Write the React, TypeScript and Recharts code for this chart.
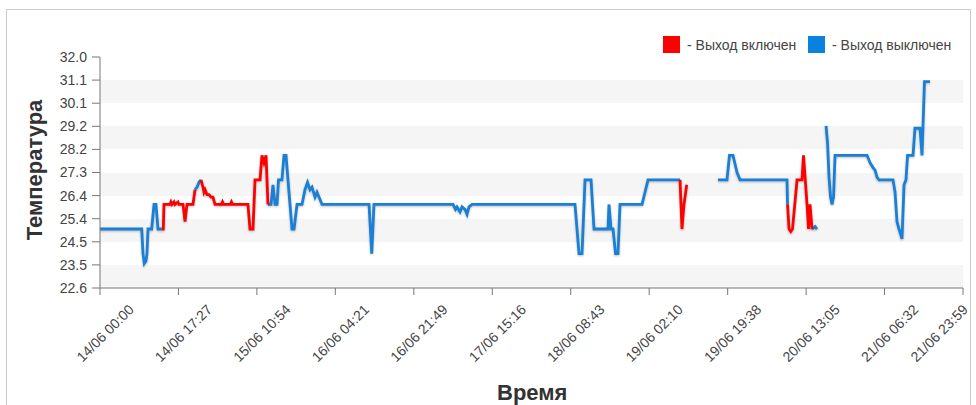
import React from 'react';
import { LineChart, Line, XAxis, YAxis, CartesianGrid } from 'recharts';

// [time "DD/MM HH:MM", temperature, output state of the segment starting here (1 = on, 0 = off)]
type Reading = [string, number, number];

const seriesOnName = '- Выход включен';
const seriesOffName = '- Выход выключен';

const xTickLabels = [
  '14/06 00:00', '14/06 17:27', '15/06 10:54', '16/06 04:21', '16/06 21:49', '17/06 15:16',
  '18/06 08:43', '19/06 02:10', '19/06 19:38', '20/06 13:05', '21/06 06:32', '21/06 23:59',
];

const yMin = 22.6;
const yMax = 32.0;
const yTickCount = 11;

const segmentA: Reading[] = [
  ['14/06 00:00', 25.0, 0], ['14/06 09:17', 25.0, 0], ['14/06 09:34', 24.0, 0], ['14/06 09:51', 23.6, 0],
  ['14/06 10:14', 23.7, 0], ['14/06 10:27', 24.0, 0], ['14/06 10:41', 25.0, 0], ['14/06 11:30', 25.0, 0],
  ['14/06 12:01', 26.0, 0], ['14/06 12:27', 26.0, 0], ['14/06 12:54', 25.0, 0], ['14/06 13:44', 25.0, 1],
  ['14/06 14:05', 25.0, 1], ['14/06 14:14', 26.0, 1], ['14/06 15:34', 26.0, 1], ['14/06 15:47', 26.1, 1],
  ['14/06 16:01', 26.0, 1], ['14/06 16:28', 26.1, 1], ['14/06 16:41', 26.0, 1], ['14/06 17:21', 26.1, 1],
  ['14/06 17:34', 26.0, 1], ['14/06 18:28', 26.0, 1], ['14/06 18:55', 25.3, 1], ['14/06 19:21', 26.0, 1],
  ['14/06 20:41', 26.0, 1], ['14/06 21:08', 26.6, 0], ['14/06 21:35', 26.7, 0], ['14/06 22:01', 26.9, 0],
  ['14/06 22:28', 27.0, 1], ['14/06 22:55', 26.7, 1], ['14/06 23:08', 26.5, 1], ['14/06 23:22', 26.6, 1],
  ['14/06 23:48', 26.4, 1], ['15/06 00:15', 26.4, 1], ['15/06 00:42', 26.3, 1], ['15/06 01:08', 26.3, 1],
  ['15/06 01:35', 26.0, 1], ['15/06 02:35', 26.0, 0], ['15/06 02:50', 26.0, 1], ['15/06 03:00', 26.0, 1],
  ['15/06 03:15', 26.1, 1], ['15/06 03:30', 26.0, 1], ['15/06 05:00', 26.0, 1], ['15/06 05:15', 26.1, 1],
  ['15/06 05:30', 26.0, 1], ['15/06 08:55', 26.0, 1], ['15/06 09:22', 25.0, 1], ['15/06 10:02', 25.0, 1],
  ['15/06 10:29', 27.0, 1], ['15/06 11:36', 27.0, 1], ['15/06 12:02', 28.0, 1], ['15/06 12:29', 27.7, 1],
  ['15/06 12:56', 28.0, 1], ['15/06 13:22', 26.0, 0], ['15/06 14:03', 26.0, 0], ['15/06 14:29', 26.8, 0],
  ['15/06 14:56', 26.0, 0], ['15/06 15:23', 26.0, 0], ['15/06 15:43', 27.0, 0], ['15/06 16:29', 27.0, 0],
  ['15/06 16:56', 28.0, 0], ['15/06 17:23', 28.0, 0], ['15/06 17:49', 27.0, 0], ['15/06 18:43', 25.0, 0],
  ['15/06 19:10', 25.0, 0], ['15/06 19:50', 26.0, 0], ['15/06 20:56', 26.0, 0], ['15/06 21:36', 26.6, 0],
  ['15/06 22:10', 26.9, 0], ['15/06 22:43', 26.6, 0], ['15/06 23:10', 26.7, 0], ['15/06 23:50', 26.3, 0],
  ['16/06 00:16', 26.5, 0], ['16/06 00:57', 26.2, 0], ['16/06 01:23', 26.0, 0], ['16/06 11:51', 26.0, 0],
  ['16/06 12:27', 24.0, 0], ['16/06 12:57', 26.0, 0], ['17/06 06:32', 26.0, 0], ['17/06 07:05', 25.8, 0],
  ['17/06 07:25', 25.9, 0], ['17/06 08:05', 25.7, 0], ['17/06 08:32', 25.9, 0], ['17/06 09:12', 25.8, 0],
  ['17/06 09:39', 25.6, 0], ['17/06 10:05', 25.9, 0], ['17/06 10:45', 26.0, 0], ['18/06 09:40', 26.0, 0],
  ['18/06 10:34', 24.0, 0], ['18/06 11:14', 24.0, 0], ['18/06 11:54', 27.0, 0], ['18/06 13:14', 27.0, 0],
  ['18/06 13:54', 25.0, 0], ['18/06 17:01', 25.0, 0], ['18/06 17:14', 26.0, 0], ['18/06 17:41', 25.0, 0],
  ['18/06 18:08', 25.0, 0], ['18/06 18:41', 24.0, 0], ['18/06 19:14', 24.0, 0], ['18/06 19:41', 26.0, 0],
  ['19/06 00:35', 26.0, 0], ['19/06 01:55', 27.0, 0], ['19/06 09:02', 27.0, 1], ['19/06 09:28', 25.0, 1],
  ['19/06 09:55', 26.0, 1], ['19/06 10:31', 26.8, 1],
];

const segmentB: Reading[] = [
  ['19/06 17:29', 27.0, 0], ['19/06 19:29', 27.0, 0], ['19/06 20:02', 28.0, 0], ['19/06 20:49', 28.0, 0],
  ['19/06 21:43', 27.3, 0], ['19/06 22:23', 27.0, 0], ['20/06 08:50', 27.0, 0], ['20/06 08:57', 26.0, 1],
  ['20/06 09:17', 25.0, 1], ['20/06 09:40', 24.9, 1], ['20/06 10:03', 25.0, 1], ['20/06 11:04', 27.0, 1],
  ['20/06 12:10', 27.0, 1], ['20/06 12:30', 28.0, 1], ['20/06 13:17', 26.0, 1], ['20/06 13:37', 25.0, 1],
  ['20/06 13:57', 26.0, 1], ['20/06 14:24', 25.0, 0], ['20/06 15:04', 25.1, 0], ['20/06 15:31', 25.0, 0],
];

const segmentC: Reading[] = [
  ['20/06 17:31', 29.2, 0], ['20/06 17:51', 28.5, 0], ['20/06 18:11', 27.1, 0], ['20/06 18:31', 26.3, 0],
  ['20/06 18:51', 26.0, 0], ['20/06 19:11', 26.3, 0], ['20/06 19:31', 28.0, 0], ['21/06 02:38', 28.0, 0],
  ['21/06 03:18', 27.7, 0], ['21/06 03:58', 27.5, 0], ['21/06 04:25', 27.4, 0], ['21/06 04:52', 27.1, 0],
  ['21/06 05:18', 27.0, 0], ['21/06 08:25', 27.0, 0], ['21/06 08:52', 26.5, 0], ['21/06 09:18', 25.3, 0],
  ['21/06 09:45', 25.0, 0], ['21/06 10:25', 24.6, 0], ['21/06 10:52', 26.8, 0], ['21/06 11:18', 27.0, 0],
  ['21/06 11:39', 28.0, 0], ['21/06 12:52', 28.0, 0], ['21/06 13:18', 29.1, 0], ['21/06 14:25', 29.1, 0],
  ['21/06 14:52', 28.0, 0], ['21/06 15:25', 31.0, 0], ['21/06 16:39', 31.0, 0],
];

const segments = [segmentA, segmentB, segmentC];

const parseTime = (s: string) => {
  const [d, t] = s.split(' ');
  const [dd] = d.split('/').map(Number);
  const [hh, mm] = t.split(':').map(Number);
  return (dd - 14) * 1440 + hh * 60 + mm;
};

const xTicks = xTickLabels.map(parseTime);
const labelByTick: Record<number, string> = {};
xTickLabels.forEach((l) => { labelByTick[parseTime(l)] = l; });

const yTicks = Array.from({ length: yTickCount }, (_, i) => yMin + (i * (yMax - yMin)) / (yTickCount - 1));

type Row = { t: number; on: number | null; off: number | null };
const rows: Row[] = [];
segments.forEach((seg, si) => {
  if (si > 0) {
    const prev = segments[si - 1];
    const gapT = (parseTime(prev[prev.length - 1][0]) + parseTime(seg[0][0])) / 2;
    rows.push({ t: gapT, on: null, off: null });
  }
  seg.forEach(([time, temp, state], i) => {
    const prevState = i > 0 ? seg[i - 1][2] : state;
    rows.push({
      t: parseTime(time),
      on: state === 1 || prevState === 1 ? temp : null,
      off: state === 0 || prevState === 0 ? temp : null,
    });
  });
});

const FONT = '"Liberation Sans", Arial, sans-serif';
const RED = '#ff0000';
const BLUE = '#1a7fd6';

const XTick = (props: any) => {
  const { x, y, payload } = props;
  let cx = x + 5;
  if (cx > 939) cx = 939;
  const cy = y + 36;
  return (
    <text
      x={cx}
      y={cy}
      textAnchor="middle"
      dominantBaseline="central"
      transform={`rotate(-45 ${cx} ${cy})`}
      fontSize={14}
      fontFamily={FONT}
      fill="#444"
    >
      {labelByTick[payload.value] ?? ''}
    </text>
  );
};

export default function App() {
  return (
    <div style={{ position: 'absolute', left: 0, top: 0, width: 976, height: 405, overflow: 'hidden', background: '#fff', fontFamily: FONT }}>
      <style>{`.recharts-line-curve { filter: drop-shadow(0px 1px 1px rgba(0,0,0,0.25)); }`}</style>
      <div style={{ position: 'absolute', left: 6, top: 9, width: 963, height: 440, border: '1px solid #cccccc' }} />
      <div style={{ position: 'absolute', left: 0, top: 0 }}>
        <LineChart width={976} height={405} data={rows} margin={{ top: 57, right: 13, bottom: 57, left: 0 }}>
          <CartesianGrid vertical={false} stroke="transparent" horizontalFill={['#ffffff', '#f5f5f5']} fillOpacity={1} />
          <XAxis
            dataKey="t"
            type="number"
            domain={[xTicks[0], xTicks[xTicks.length - 1]]}
            ticks={xTicks}
            interval={0}
            allowDataOverflow
            height={60}
            tickSize={7}
            tickMargin={2}
            stroke="#777"
            tick={<XTick />}
          />
          <YAxis
            type="number"
            domain={[yMin, yMax]}
            ticks={yTicks}
            interval={0}
            allowDataOverflow
            width={100}
            tickSize={8}
            tickMargin={5}
            stroke="#777"
            tick={{ fill: '#444', fontSize: 14, fontFamily: FONT }}
            tickFormatter={(v: number) => v.toFixed(1)}
          />
          <Line dataKey="off" name={seriesOffName} stroke={BLUE} strokeWidth={2.8} dot={false} activeDot={false} connectNulls={false} isAnimationActive={false} type="linear" />
          <Line dataKey="on" name={seriesOnName} stroke={RED} strokeWidth={2.8} dot={false} activeDot={false} connectNulls={false} isAnimationActive={false} type="linear" />
        </LineChart>
      </div>
      <svg width={976} height={405} style={{ position: 'absolute', left: 0, top: 0, pointerEvents: 'none' }}>
        <text x={42} y={170} transform="rotate(-90 42 170)" textAnchor="middle" fontSize={22} fontWeight="bold" fontFamily={FONT} fill="#333">Температура</text>
        <text x={497} y={400} textAnchor="start" fontSize={22} fontWeight="bold" fontFamily={FONT} fill="#333">Время</text>
        <rect x={663} y={36} width={17} height={17} fill={RED} />
        <text x={687} y={50} fontSize={14} fontFamily={FONT} fill="#444">{seriesOnName}</text>
        <rect x={808} y={36} width={17} height={17} fill="#0a80df" />
        <text x={832} y={50} fontSize={14} fontFamily={FONT} fill="#444">{seriesOffName}</text>
      </svg>
    </div>
  );
}
